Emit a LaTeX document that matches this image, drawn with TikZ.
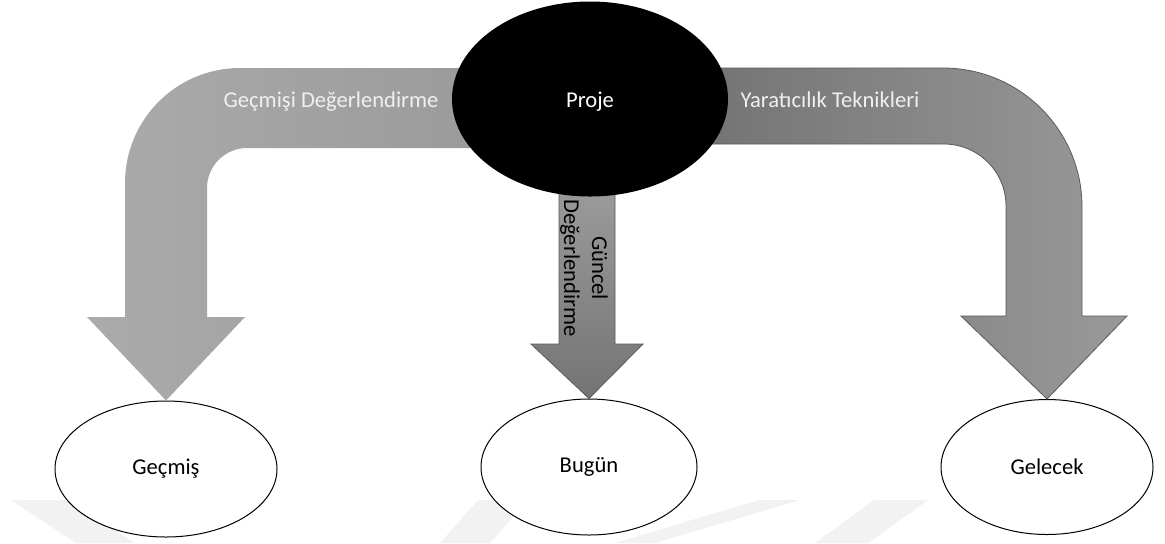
\documentclass[tikz,border=0pt]{standalone}
\usepackage{fontspec}
\setmainfont{Carlito}
\usetikzlibrary{shapes.geometric}
\definecolor{lgA}{HTML}{ABABAB}
\definecolor{lgB}{HTML}{9B9B9B}
\definecolor{mgA}{HTML}{9C9C9C}
\definecolor{mgB}{HTML}{747474}
\definecolor{rgA}{HTML}{747474}
\definecolor{rgB}{HTML}{969696}
\definecolor{rgC}{HTML}{999999}
\definecolor{edge}{HTML}{5A5A5A}
\definecolor{wmark}{HTML}{F2F2F2}
\definecolor{ltext}{HTML}{F0F0F0}
\begin{document}
\begin{tikzpicture}[x=0.5pt,y=-0.5pt,
  lbl/.style={font=\fontsize{11.3}{14}\selectfont},
  oval/.style={ellipse, draw=black, line width=0.5pt, fill=white, inner sep=0pt, lbl},
  wm/.style={fill=wmark, draw=none},
  leftarrow/.style={left color=lgA, right color=lgB, draw=none},
  midarrow/.style={top color=mgA, bottom color=mgB, draw=edge, line width=0.4pt},
  rightarrow/.style={left color=rgA, middle color=rgB, right color=rgC, draw=edge, line width=0.4pt},
  bandtext/.style={lbl, anchor=base}]
\useasboundingbox (0,0) rectangle (1165,543);
\fill[white] (0,0) rectangle (1165,543);
% faint watermark
\path[wm] (11,500) -- (70,500) -- (135,543) -- (76,543) -- cycle;
\path[wm] (478,500) -- (528,500) -- (490,543) -- (440,543) -- cycle;
\path[wm] (759,500) -- (800,500) -- (655,543) -- (615,543) -- cycle;
\path[wm] (874,500) -- (928,500) -- (868,543) -- (815,543) -- cycle;
% target ellipses
\node[oval, minimum width=111pt, minimum height=68pt] (gec) at (166,469) {Geçmiş};
\node[oval, minimum width=108pt, minimum height=68pt] (bug) at (589,467) {Bugün};
\node[oval, minimum width=106pt, minimum height=67.5pt] (gel) at (1047,467) {Gelecek};
% arrows
\path[leftarrow] (470,68) -- (240,68) .. controls (176.5,68) and (125,119.5) .. (125,183)
  -- (125,317) -- (87,317) -- (gec.north) -- (245,317) -- (207,317) -- (207,188)
  .. controls (207,166) and (225,148) .. (247,148) -- (470,148) -- cycle;
\path[midarrow] (559,180) -- (615,180) -- (615,344) -- (643,344) -- (bug.north)
  -- (531,344) -- (559,344) -- cycle;
\path[rightarrow] (705,68) -- (943,68) .. controls (1019.8,68) and (1082,130.2) .. (1082,207)
  -- (1082,316) -- (1127,316) -- (gel.north) -- (961,316) -- (1006,316) -- (1006,206)
  .. controls (1006,171.8) and (978.2,144) .. (944,144) -- (705,144) -- cycle;
% central ellipse
\node[ellipse, fill=black, draw=none, inner sep=0pt, minimum width=138pt, minimum height=97.5pt] (proj) at (590,99) {};
% labels
\node[bandtext, text=white] (lpr) at (proj.center |- 0,107) {Proje};
\node[bandtext, text=ltext] (lgd) at (331,107) {Geçmişi Değerlendirme};
\node[bandtext, text=ltext] (lyt) at (830,107) {Yaratıcılık Teknikleri};
\node[lbl, rotate=-90, align=center, inner sep=0pt] (lgu) at (584,268) {Güncel\\Değerlendirme};
\end{tikzpicture}
\end{document}
